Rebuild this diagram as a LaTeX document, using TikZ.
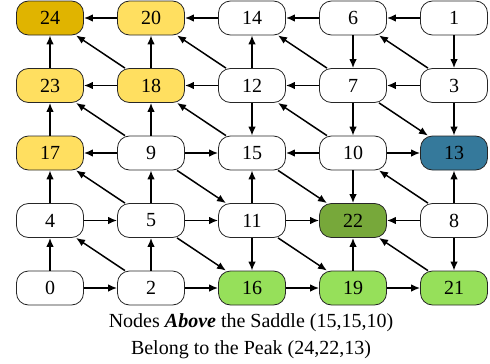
\documentclass[tikz,border=0pt]{standalone}
\usepackage{fontspec}
\setmainfont{Liberation Serif}
\usetikzlibrary{arrows.meta}
\definecolor{cgold}{HTML}{E0B400}
\definecolor{cyel}{HTML}{FFDF60}
\definecolor{cblue}{HTML}{35799B}
\definecolor{cdgreen}{HTML}{77A83A}
\definecolor{clgreen}{HTML}{96E05A}
\begin{document}
\begin{tikzpicture}[x=1pt,y=-1pt,
  nd/.style={draw=black!85, line width=0.8pt, rounded corners=12pt,
    minimum width=67pt, minimum height=34pt, inner sep=0pt,
    font=\fontsize{20}{22}\selectfont, fill=white},
  ar/.style={-{Latex[length=9pt,width=7.5pt]}, line width=1.5pt},
  captext/.style={font=\fontsize{20}{27}\selectfont, align=center, inner sep=0pt}]
\useasboundingbox (0,0) rectangle (490,364);
% row 0
\node[nd, fill=cgold] (n24) at (50,18) {24};
\node[nd, fill=cyel] (n20) at (151,18) {20};
\node[nd] (n14) at (252,18) {14};
\node[nd] (n6) at (353,18) {6};
\node[nd] (n1) at (454,18) {1};
% row 1
\node[nd, fill=cyel] (n23) at (50,85.5) {23};
\node[nd, fill=cyel] (n18) at (151,85.5) {18};
\node[nd] (n12) at (252,85.5) {12};
\node[nd] (n7) at (353,85.5) {7};
\node[nd] (n3) at (454,85.5) {3};
% row 2
\node[nd, fill=cyel] (n17) at (50,153) {17};
\node[nd] (n9) at (151,153) {9};
\node[nd] (n15) at (252,153) {15};
\node[nd] (n10) at (353,153) {10};
\node[nd, fill=cblue] (n13) at (454,153) {13};
% row 3
\node[nd] (n4) at (50,220.5) {4};
\node[nd] (n5) at (151,220.5) {5};
\node[nd] (n11) at (252,220.5) {11};
\node[nd, fill=cdgreen] (n22) at (353,220.5) {22};
\node[nd] (n8) at (454,220.5) {8};
% row 4
\node[nd] (n0) at (50,288) {0};
\node[nd] (n2) at (151,288) {2};
\node[nd, fill=clgreen] (n16) at (252,288) {16};
\node[nd, fill=clgreen] (n19) at (353,288) {19};
\node[nd, fill=clgreen] (n21) at (454,288) {21};
% horizontal
\draw[ar] (n20) -- (n24); \draw[ar] (n14) -- (n20); \draw[ar] (n6) -- (n14); \draw[ar] (n1) -- (n6);
\draw[ar] (n18) -- (n23); \draw[ar] (n12) -- (n18); \draw[ar] (n7) -- (n12); \draw[ar] (n3) -- (n7);
\draw[ar] (n9) -- (n17); \draw[ar] (n9) -- (n15); \draw[ar] (n10) -- (n15); \draw[ar] (n10) -- (n13);
\draw[ar] (n4) -- (n5); \draw[ar] (n5) -- (n11); \draw[ar] (n11) -- (n22); \draw[ar] (n8) -- (n22);
\draw[ar] (n0) -- (n2); \draw[ar] (n2) -- (n16); \draw[ar] (n16) -- (n19); \draw[ar] (n19) -- (n21);
% vertical
\draw[ar] (n23) -- (n24); \draw[ar] (n17) -- (n23); \draw[ar] (n4) -- (n17); \draw[ar] (n0) -- (n4);
\draw[ar] (n18) -- (n20); \draw[ar] (n9) -- (n18); \draw[ar] (n5) -- (n9); \draw[ar] (n2) -- (n5);
\draw[ar] (n12) -- (n14); \draw[ar] (n12) -- (n15); \draw[ar] (n11) -- (n15); \draw[ar] (n11) -- (n16);
\draw[ar] (n6) -- (n7); \draw[ar] (n7) -- (n10); \draw[ar] (n10) -- (n22); \draw[ar] (n19) -- (n22);
\draw[ar] (n1) -- (n3); \draw[ar] (n3) -- (n13); \draw[ar] (n8) -- (n13); \draw[ar] (n8) -- (n21);
% diagonal
\draw[ar] (n18) -- (n24); \draw[ar] (n12) -- (n20); \draw[ar] (n7) -- (n14); \draw[ar] (n3) -- (n6);
\draw[ar] (n9) -- (n23); \draw[ar] (n15) -- (n18); \draw[ar] (n10) -- (n12); \draw[ar] (n7) -- (n13);
\draw[ar] (n5) -- (n17); \draw[ar] (n9) -- (n11); \draw[ar] (n15) -- (n22); \draw[ar] (n8) -- (n10);
\draw[ar] (n2) -- (n4); \draw[ar] (n5) -- (n16); \draw[ar] (n11) -- (n19); \draw[ar] (n21) -- (n22);
% caption
\node[captext] (caption) at (251,336) {Nodes \textbf{\textit{Above}} the Saddle (15,15,10)\\Belong to the Peak (24,22,13)};
\end{tikzpicture}
\end{document}
